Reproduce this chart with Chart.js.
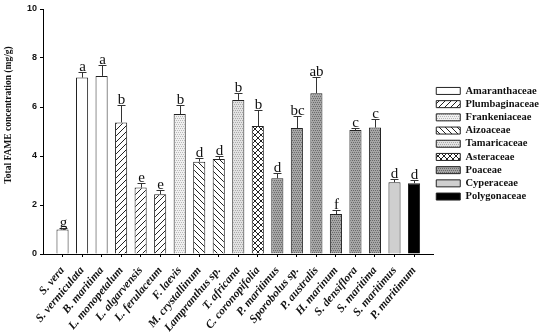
<!DOCTYPE html>
<html>
<head>
  <meta charset="UTF-8" />
  <title>FAME</title>
  <script src="https://cdn.jsdelivr.net/npm/chart.js"></script>
  <style>
    body { margin: 0; background: #fff; }
    .wrap { width: 550px; height: 333px; position: relative; }
  </style>
</head>
<body>
  <div class="wrap"><canvas id="chart"></canvas></div>

  <script>
    const species = ['S. vera', 'S. vermiculata', 'B. maritima', 'L. monopetalum', 'L. algarvensis', 'L. ferulaceum',
      'F. laevis', 'M. crystallinum', 'Lampranthus sp.', 'T. africana', 'C. coronopifolia', 'P. maritimus',
      'Sporobolus sp.', 'P. australis', 'H. marinum', 'S. densiflora', 'S. maritima', 'S. maritimus', 'P. maritimum'];
    const fame = [1.0, 7.2, 7.27, 5.37, 2.71, 2.44, 5.71, 3.77, 3.88, 6.29, 5.22, 3.09, 5.14, 6.56, 1.63, 5.06, 5.16, 2.93, 2.89];
    const errs = [0.05, 0.22, 0.45, 0.71, 0.2, 0.16, 0.38, 0.13, 0.13, 0.3, 0.67, 0.2, 0.51, 0.65, 0.15, 0.08, 0.35, 0.12, 0.13];
    const letters = ['g', 'a', 'a', 'b', 'e', 'e', 'b', 'd', 'd', 'b', 'b', 'd', 'bc', 'ab', 'f', 'c', 'c', 'd', 'd'];
    const families = ['Amaranthaceae', 'Plumbaginaceae', 'Frankeniaceae', 'Aizoaceae', 'Tamaricaceae', 'Asteraceae',
      'Poaceae', 'Cyperaceae', 'Polygonaceae'];
    const familyOf = [0, 0, 0, 1, 1, 1, 2, 3, 3, 4, 5, 6, 6, 6, 6, 6, 6, 7, 8];
    const yTicks = [0, 2, 4, 6, 8, 10];

    const serif = '"Liberation Serif", "Times New Roman", serif';
    const sans = '"Liberation Sans", Arial, sans-serif';

    // fill patterns for the families
    const tmp = document.createElement('canvas').getContext('2d');
    function pattern(size, bg, draw) {
      const c = document.createElement('canvas');
      c.width = c.height = size;
      const g = c.getContext('2d');
      g.fillStyle = bg;
      g.fillRect(0, 0, size, size);
      if (draw) draw(g, size);
      return tmp.createPattern(c, 'repeat');
    }
    function hatch(dir) {
      return (g, s) => {
        g.strokeStyle = '#222';
        g.lineWidth = 1;
        g.beginPath();
        for (let k = -1; k <= 1; k++) {
          if (dir > 0) { g.moveTo(k * s, s); g.lineTo(k * s + s, 0); }
          else { g.moveTo(k * s, 0); g.lineTo(k * s + s, s); }
        }
        g.stroke();
      };
    }
    function dots(color, step) {
      return (g, s) => {
        g.fillStyle = color;
        for (let x = 0; x < s; x += step)
          for (let y = 0; y < s; y += step) g.fillRect(x + ((y / step) % 2), y, 1, 1);
      };
    }
    const fills = [
      '#ffffff',
      pattern(6, '#fff', hatch(1)),
      pattern(4, '#f0f0f0', dots('#b8b8b8', 2)),
      pattern(6, '#fff', hatch(-1)),
      pattern(4, '#e2e2e2', dots('#a8a8a8', 2)),
      pattern(6, '#fff', (g, s) => { hatch(1)(g, s); hatch(-1)(g, s); }),
      pattern(4, '#a6a6a6', dots('#6a6a6a', 2)),
      '#cfcfcf',
      '#000000'
    ];

    // one blank slot each side gives the padding seen in the figure
    const labels = ['', ...species, ''];
    const datasets = families.map((name, f) => ({
      label: name,
      data: [null, ...fame.map((v, i) => familyOf[i] === f ? v : null), null],
      backgroundColor: fills[f],
      borderColor: '#222',
      borderWidth: 1,
      borderSkipped: 'bottom'
    }));

    const errorBars = {
      id: 'errorBars',
      afterDatasetsDraw(chart) {
        const { ctx, scales: { y } } = chart;
        ctx.save();
        ctx.strokeStyle = '#333';
        ctx.lineWidth = 1;
        ctx.fillStyle = '#111';
        ctx.font = '15px ' + serif;
        ctx.textAlign = 'center';
        ctx.textBaseline = 'alphabetic';
        chart.data.datasets.forEach((ds, di) => {
          chart.getDatasetMeta(di).data.forEach((bar, i) => {
            if (ds.data[i] == null) return;
            const s = i - 1;
            const x = Math.round(bar.x) + 0.5;
            const top = Math.round(y.getPixelForValue(fame[s] + errs[s])) + 0.5;
            ctx.beginPath();
            ctx.moveTo(x, bar.y);
            ctx.lineTo(x, top);
            ctx.moveTo(x - 4, top);
            ctx.lineTo(x + 4, top);
            ctx.stroke();
            ctx.fillText(letters[s], x, top - 1.5);
          });
        });
        ctx.restore();
      }
    };

    const yTitle = {
      id: 'yTitle',
      afterDraw(chart) {
        const ctx = chart.ctx;
        ctx.save();
        ctx.translate(9, 115);
        ctx.rotate(-Math.PI / 2);
        ctx.font = 'bold 9.5px ' + serif;
        ctx.fillStyle = '#111';
        ctx.textAlign = 'center';
        ctx.textBaseline = 'middle';
        ctx.fillText('Total FAME concentration (mg/g)', 0, 0);
        ctx.restore();
      }
    };

    new Chart(document.getElementById('chart'), {
      type: 'bar',
      data: { labels: labels, datasets: datasets },
      plugins: [errorBars, yTitle],
      options: {
        responsive: true,
        maintainAspectRatio: false,
        animation: false,
        skipNull: true,
        categoryPercentage: 1,
        barPercentage: 0.62,
        layout: { padding: { top: 9, right: 1, left: 0, bottom: 0 } },
        scales: {
          x: {
            offset: false,
            afterFit: s => { s.height = 79; },
            border: { color: '#000', width: 1 },
            grid: {
              offset: false,
              drawOnChartArea: false,
              tickLength: 3,
              tickColor: c => (labels[c.index] ? '#000' : 'rgba(0,0,0,0)')
            },
            ticks: {
              autoSkip: false,
              minRotation: 50,
              maxRotation: 50,
              padding: 7,
              color: '#111',
              font: { family: serif, size: 11.5, style: 'italic', weight: 'bold' }
            }
          },
          y: {
            min: 0,
            max: 10,
            afterFit: s => { s.width = 43; },
            afterBuildTicks: s => { s.ticks = yTicks.map(v => ({ value: v })); },
            border: { color: '#000', width: 1 },
            grid: { drawOnChartArea: false, tickLength: 3, tickColor: '#000' },
            ticks: {
              padding: 3,
              color: '#111',
              font: { family: sans, size: 9, weight: 'bold' }
            }
          }
        },
        plugins: {
          tooltip: { enabled: false },
          legend: {
            position: 'right',
            align: 'start',
            title: { display: true, text: '', font: { size: 10 }, padding: { top: 62, bottom: 0 } },
            labels: {
              boxWidth: 24,
              boxHeight: 7,
              padding: 2.7,
              color: '#111',
              font: { family: serif, size: 10.5, weight: 'bold' }
            }
          }
        }
      }
    });
  </script>
</body>
</html>
